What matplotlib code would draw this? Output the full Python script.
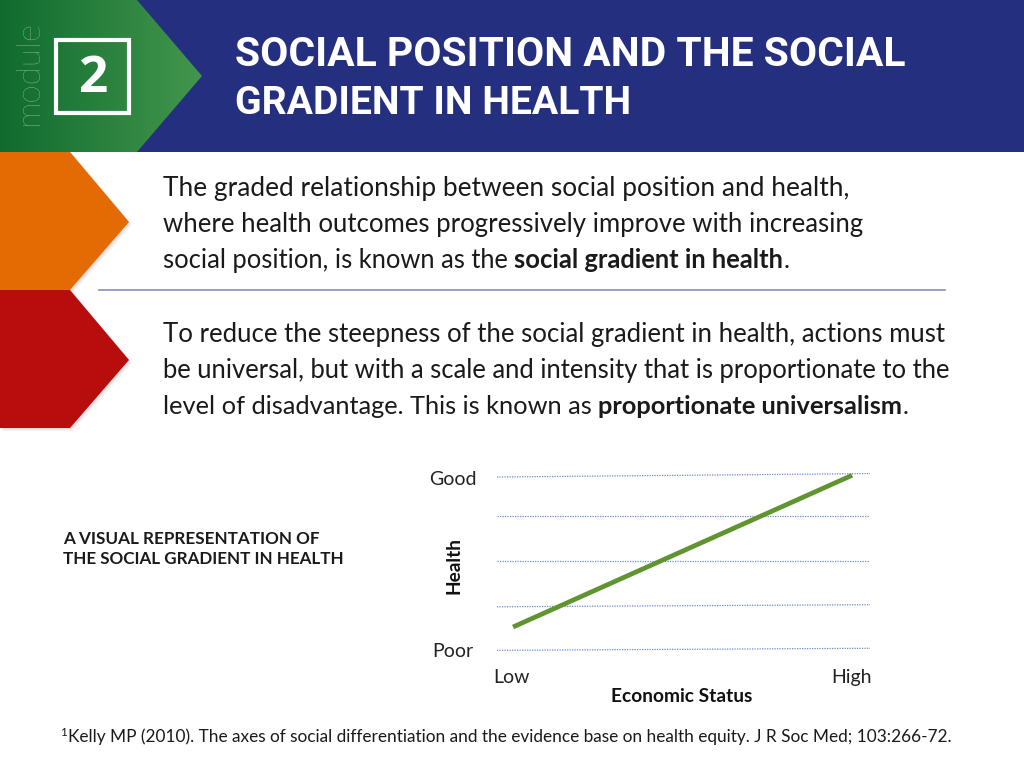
import numpy as np
import matplotlib
matplotlib.use('Agg')
import matplotlib.pyplot as plt
from matplotlib.patches import Polygon, Rectangle

FONT = 'Lato'

# chart values, health scale 0 (poor) to 100 (good), economic status 0 to 100
grid_left = [100, 77.3, 51.7, 25.0, -0.2]
grid_right = [102, 77.3, 51.7, 26.2, 1.0]
grid_x = [0, 100]
status = [4.3, 95.2]
health = [13.3, 101]
x_ticks = [3.8, 95]
x_labels = ['Low', 'High']
y_ticks = [0, 99.5]
y_labels = ['Poor', 'Good']

title_lines = ['SOCIAL POSITION AND THE SOCIAL', 'GRADIENT IN HEALTH']
para1 = [[('The graded relationship between social position and health,', False)],
         [('where health outcomes progressively improve with increasing', False)],
         [('social position, is known as the ', False), ('social gradient in health', True), ('.', False)]]
para2 = [[('To reduce the steepness of the social gradient in health, actions must', False)],
         [('be universal, but with a scale and intensity that is proportionate to the', False)],
         [('level of disadvantage. This is known as ', False), ('proportionate universalism', True), ('.', False)]]
footnote = 'Kelly MP (2010). The axes of social differentiation and the evidence base on health equity. J R Soc Med; 103:266-72.'

fig = plt.figure(figsize=(10.24, 7.68), dpi=100, facecolor='white')
bg = fig.add_axes([0, 0, 1, 1])
bg.set_xlim(0, 1024)
bg.set_ylim(768, 0)
bg.axis('off')


def fit_text(segments, x0, x1, y, color='#1a1a1a', size=18, family=FONT):
    # draw the pieces of one line and scale them so the line spans x0..x1
    renderer = fig.canvas.get_renderer()
    items = []
    for s, is_bold in segments:
        t = bg.text(x0, y, s.replace(' ', '\u00a0'), fontsize=size, color=color, family=family,
                    fontweight='bold' if is_bold else 'normal', va='baseline', ha='left')
        items.append(t)
    # hinting makes the width not quite linear in size, so go round a few times
    for _ in range(3):
        total = sum(t.get_window_extent(renderer).width for t in items)
        size = size * (x1 - x0) / total
        for t in items:
            t.set_fontsize(size)
    x = x0
    for t in items:
        t.set_x(x)
        x += t.get_window_extent(renderer).width


def chevron(points, color):
    # faint offset copy gives the soft shadow under the shape
    for off, a in [(3, 0.05), (1.5, 0.08)]:
        bg.add_patch(Polygon([(x + off, y + off) for x, y in points], closed=True, fc='black', alpha=a, lw=0))
    bg.add_patch(Polygon(points, closed=True, fc=color, lw=0))


# side chevrons
chevron([(0, 152), (70, 152), (129, 222), (70, 290), (0, 290)], '#e46a04')
chevron([(0, 290), (70, 290), (129, 360), (70, 428), (0, 428)], '#b80d0d')
bg.plot([99, 945], [290, 290], color='#8a8db8', lw=1.2)

# header band
bg.add_patch(Rectangle((0, 0), 1024, 152, color='#252f7f', lw=0))
grad = np.linspace(0, 1, 256).reshape(1, -1, 1)
c0 = np.array([15, 107, 47]) / 255
c1 = np.array([67, 150, 76]) / 255
img = bg.imshow(c0 + (c1 - c0) * grad, extent=(0, 202, 152, 0), aspect='auto', zorder=2)
arrow = Polygon([(0, 0), (137, 0), (202, 76), (137, 152), (0, 152)], closed=True, transform=bg.transData, fc='none', lw=0)
bg.add_patch(arrow)
img.set_clip_path(arrow)
bg.set_xlim(0, 1024)
bg.set_ylim(768, 0)

bg.add_patch(Rectangle((56, 40), 73, 73, fc='none', ec='white', lw=3, zorder=3))
bg.text(92.5, 79, '2', color='white', fontsize=37, fontweight='bold', family='Open Sans',
        ha='center', va='center', zorder=4)
bg.text(29, 72, 'module', color='#a9cdb0', fontsize=24, fontweight='light', family=FONT,
        rotation=90, ha='center', va='center', zorder=4)

# text blocks
for line, x1, y in zip(title_lines, [905, 632], [66, 114]):
    fit_text([(line, True)], 235, x1, y, color='white', size=30, family='Roboto')
for line, x1, y in zip(para1, [847, 863, 790], [196, 232, 268]):
    fit_text(line, 163, x1, y)
for line, x1, y in zip(para2, [947, 951, 910], [342, 378, 414]):
    fit_text(line, 163, x1, y)
fit_text([('A VISUAL REPRESENTATION OF', True)], 63, 319, 544, size=12)
fit_text([('THE SOCIAL GRADIENT IN HEALTH', True)], 63, 344, 564, size=12)
fit_text([(footnote, False)], 68, 955, 742, size=11)
bg.text(60, 736, '1', fontsize=8.5, family=FONT, color='#1a1a1a', va='baseline')

# chart
ax = fig.add_axes([497 / 1024, 1 - 655.2 / 768, 373 / 1024, 185.1 / 768])
ax.patch.set_alpha(0)
for left, right in zip(grid_left, grid_right):
    ax.plot(grid_x, [left, right], color='#6a8cc4', lw=0.9, ls=(0, (1, 1)))
ax.plot(status, health, color='#5f9430', lw=3.4, solid_capstyle='butt')
ax.set_xlim(0, 100)
ax.set_ylim(-3, 104)
for s in ax.spines.values():
    s.set_visible(False)
ax.set_xticks(x_ticks)
ax.set_xticklabels(x_labels, fontsize=14, family=FONT, color='#222222')
ax.set_yticks(y_ticks)
ax.set_yticklabels(y_labels, fontsize=14, family=FONT, color='#222222', ha='center')
ax.tick_params(axis='x', length=0, pad=10)
ax.tick_params(axis='y', length=0, pad=32)
ax.set_xlabel('Economic Status', fontsize=13.8, fontweight='bold', family=FONT, color='#111111')
ax.set_ylabel('Health', fontsize=13.7, fontweight='bold', family=FONT, color='#111111')
ax.xaxis.set_label_coords((682 - 497) / 373, -(696.5 - 655.2) / 185.1, transform=ax.transAxes)
ax.xaxis.label.set_va('center')
ax.yaxis.set_label_coords(-(497 - 454) / 373, (655.2 - 566) / 185.1, transform=ax.transAxes)
ax.yaxis.label.set_va('center')

fig.savefig('out.png', dpi=100)
